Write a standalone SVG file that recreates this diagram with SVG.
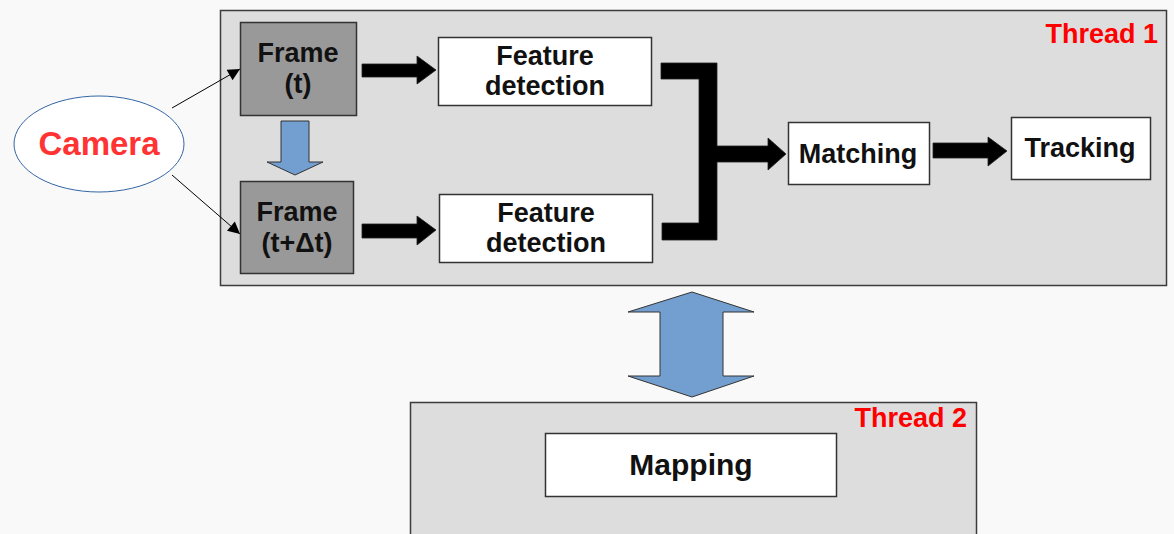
<svg xmlns="http://www.w3.org/2000/svg" width="1174" height="534" viewBox="0 0 1174 534">
<defs>
<style>
.thread{fill:#dddddd;stroke:#3c3c3c;stroke-width:1.5}
.box{fill:#ffffff;stroke:#333333;stroke-width:1.5}
.frame{fill:#999999;stroke:#333333;stroke-width:1.5}
.t{font-family:"Liberation Sans",Arial,sans-serif;font-weight:bold;font-size:27px;fill:#111111;text-anchor:middle}
.lbl{font-family:"Liberation Sans",Arial,sans-serif;font-weight:bold;font-size:27px;fill:#ff0000;text-anchor:end}
.blk{fill:#000000;stroke:#222222;stroke-width:0.8}
.blue{fill:#729fcf;stroke:#333333;stroke-width:1}
.thin{stroke:#000000;stroke-width:1;fill:none}
</style>
<marker id="ah" viewBox="0 0 10 10" refX="10" refY="5" markerWidth="16" markerHeight="12" markerUnits="userSpaceOnUse" orient="auto">
<path d="M0,0 L10,5 L0,10 z" fill="#000000"/>
</marker>
</defs>
<rect width="1174" height="534" fill="#f9f9f9"/>

<g id="thread1">
<rect class="thread" x="220.5" y="10.5" width="946" height="275"/>
<text class="lbl" x="1158" y="43">Thread 1</text>
</g>

<g id="thread2">
<rect class="thread" x="410.5" y="402.5" width="566" height="140"/>
<text class="lbl" x="967" y="427">Thread 2</text>
</g>

<g id="connectors">
<line class="thin" x1="172" y1="108" x2="240" y2="69" marker-end="url(#ah)"/>
<line class="thin" x1="172" y1="175" x2="240" y2="234" marker-end="url(#ah)"/>
<path class="blue" d="M281,121 L309,121 L309,162 L323,162 L295,175 L267,162 L281,162 z"/>
<path class="blk" d="M362,64 L417,64 L417,56 L436,70 L417,84 L417,77 L362,77 z"/>
<path class="blk" d="M362,224 L417,224 L417,216 L436,230 L417,245 L417,238 L362,238 z"/>
<path class="blk" d="M661,63 L717,63 L717,146 L768,146 L768,138 L786,154 L768,170 L768,162 L717,162 L717,240 L662,240 L662,223 L699,223 L699,79 L661,79 z"/>
<path class="blk" d="M933,143 L988,143 L988,137 L1007,151 L988,166 L988,158 L933,158 z"/>
<path class="blue" d="M692,292 L754,312 L723,312 L723,376 L754,376 L692,397 L628,376 L660,376 L660,312 L628,312 z"/>
</g>

<g id="camera">
<ellipse cx="99" cy="144" rx="85" ry="48" fill="#ffffff" stroke="#3465a4" stroke-width="1"/>
<text class="t" x="99" y="155" style="font-size:33px;fill:#ff3333">Camera</text>
</g>

<g id="frame-t">
<rect class="frame" x="240.5" y="22.5" width="116" height="93"/>
<text class="t" x="298" y="62">Frame</text>
<text class="t" x="298" y="93">(t)</text>
</g>

<g id="frame-tdt">
<rect class="frame" x="240.5" y="181.5" width="113" height="92"/>
<text class="t" x="297" y="221">Frame</text>
<text class="t" x="297" y="252">(t+Δt)</text>
</g>

<g id="feature-detection-1">
<rect class="box" x="438.5" y="37.5" width="213" height="68"/>
<text class="t" x="545" y="65">Feature</text>
<text class="t" x="545" y="95">detection</text>
</g>

<g id="feature-detection-2">
<rect class="box" x="439.5" y="194.5" width="213" height="68"/>
<text class="t" x="546" y="222">Feature</text>
<text class="t" x="546" y="252">detection</text>
</g>

<g id="matching">
<rect class="box" x="788.5" y="122.5" width="141" height="62"/>
<text class="t" x="858" y="163">Matching</text>
</g>

<g id="tracking">
<rect class="box" x="1011.5" y="117.5" width="139" height="62"/>
<text class="t" x="1080" y="157">Tracking</text>
</g>

<g id="mapping">
<rect class="box" x="545.5" y="433.5" width="291" height="63"/>
<text class="t" x="691" y="475" style="font-size:30px">Mapping</text>
</g>
</svg>
